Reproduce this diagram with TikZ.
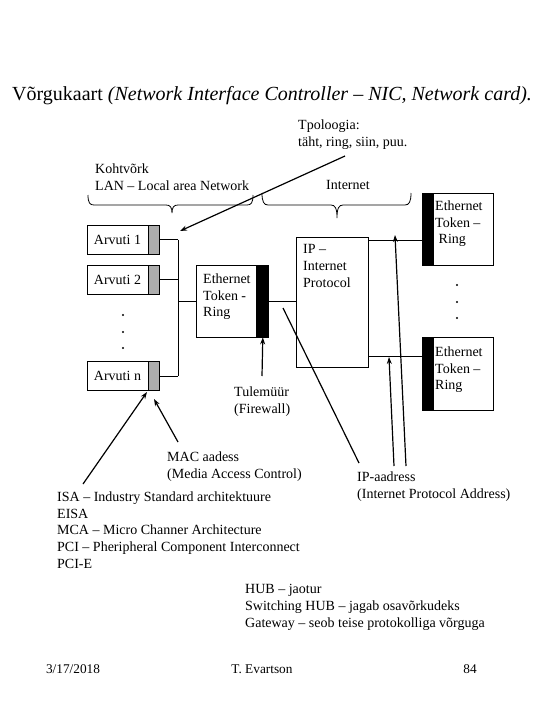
\documentclass[tikz,border=0pt]{standalone}
\usepackage{fontspec}
\setmainfont{Liberation Serif}
\usetikzlibrary{arrows.meta}
\begin{document}
\begin{tikzpicture}[x=1pt,y=-1pt,
  font=\fontsize{14}{16.7}\selectfont,
  thin line/.style={line width=0.8pt},
  pcbox/.style={draw, thin line, minimum width=61pt, minimum height=29pt, inner sep=0pt},
  pcport/.style={draw, thin line, fill=gray!65, minimum width=11pt, minimum height=29pt, inner sep=0pt},
  wbox/.style={draw, thin line, minimum width=60pt, minimum height=72pt, inner sep=0pt},
  kstrip/.style={draw, thin line, fill=black, minimum width=12pt, minimum height=72pt, inner sep=0pt},
  txt/.style={inner sep=0pt, align=left, anchor=north west},
  ltxt/.style={inner sep=0pt, anchor=base west},
  foot/.style={inner sep=0pt, font=\fontsize{13.3}{16}\selectfont},
  arr/.style={line width=1.2pt, -{Stealth[length=7pt,width=5pt]}},
  pl/.style={line width=1.2pt},
  dot/.style={circle, fill=black, inner sep=0pt, minimum size=2.2pt}]
\useasboundingbox (0,0) rectangle (540,720);

% title
\node[ltxt, font=\fontsize{20}{24}\selectfont] (title) at (12,100)
  {Võrgukaart \textit{(Network Interface Controller – NIC, Network card).}};

% top labels
\node[txt] (topo) at (298,119.5) {Tpoloogia:\\täht, ring, siin, puu.};
\node[txt] (lan) at (95,163.5) {Kohtvõrk\\LAN – Local area Network};
\node[ltxt] (inet) at (326,189) {Internet};

% braces
\draw[thin line] (88,195) .. controls (88,203) and (90,205) .. (94,205) -- (166,205)
  .. controls (170,205) and (172,207) .. (172,213)
  .. controls (172,207) and (174,205) .. (178,205) -- (247,205)
  .. controls (251,205) and (253,203) .. (253,195);
\draw[thin line] (262,193) .. controls (262,202) and (264,205) .. (268,205) -- (331,205)
  .. controls (335,205) and (337,208) .. (337,218)
  .. controls (337,208) and (339,205) .. (343,205) -- (405,205)
  .. controls (409,205) and (411,202) .. (411,193);

% computers
\node[pcbox] (a1) at (117.5,239.5) {Arvuti 1};
\node[pcport, anchor=west] (a1p) at (a1.east) {};
\node[pcbox] (a2) at (117.5,279.5) {Arvuti 2};
\node[pcport, anchor=west] (a2p) at (a2.east) {};
\node[pcbox] (an) at (117.5,376) {Arvuti n};
\node[pcport, anchor=west] (anp) at (an.east) {};
\node[dot] (d1) at (123,315) {};
\node[dot] (d2) at (123,332) {};
\node[dot] (d3) at (123,348) {};

% hub bus
\coordinate (bt) at (178,239.5);
\coordinate (bb) at (178,376);
\draw[thin line] (a1p.east) -- (bt);
\draw[thin line] (a2p.east) -- (a2p.east -| bt);
\draw[thin line] (anp.east) -- (bb);
\draw[thin line] (bt) -- (bb);

% ethernet box (middle)
\node[wbox] (eth) at (226,301) {};
\node[kstrip, anchor=west] (ethk) at (eth.east) {};
\node[txt] (etht) at (203,273.5) {Ethernet\\Token -\\Ring};
\draw[thin line] (eth.west -| bt) -- (eth.west);

% IP box
\node[draw, thin line, minimum width=72pt, minimum height=130pt, inner sep=0pt] (ip) at (332,302) {};
\node[txt] (ipt) at (303,244.5) {IP –\\Internet\\Protocol};
\draw[thin line] (ethk.east) -- (ethk.east -| ip.west);

% right ethernet boxes
\node[kstrip, minimum width=11pt] (r1k) at (427.5,229) {};
\node[wbox, anchor=west] (r1) at (r1k.east) {};
\node[txt] (r1t) at (435,200.5) {Ethernet\\Token –\\\hspace{3.5pt}Ring};
\node[kstrip, minimum width=11pt, minimum height=73pt] (r2k) at (427.5,373.5) {};
\node[wbox, minimum height=73pt, anchor=west] (r2) at (r2k.east) {};
\node[txt] (r2t) at (435,346.5) {Ethernet\\Token –\\Ring};
\node[dot] (e1) at (457,285) {};
\node[dot] (e2) at (457,302) {};
\node[dot] (e3) at (457,318) {};
\coordinate (ipo1) at (368,240);
\coordinate (ipo2) at (368,356);
\draw[thin line] (ipo1) -- (ipo1 -| r1k.west);
\draw[thin line] (ipo2) -- (ipo2 -| r2k.west);

% topology arrow
\coordinate (topoA) at (345,156);
\coordinate (topoB) at (180,231);
\draw[arr] (topoA) -- (topoB);

% firewall
\coordinate (fwtail) at (262,376);
\draw[arr] (fwtail) -- (ethk.south);
\node[txt] (fw) at (234,386.5) {Tulemüür\\(Firewall)};

% IP address
\coordinate (ipl1) at (283,308);
\coordinate (ipl2) at (359,463);
\draw[pl] (ipl2) -- (ipl1);
\coordinate (ipa1) at (394,466);
\coordinate (ipa1t) at (389,357);
\coordinate (ipa2) at (406,466);
\coordinate (ipa2t) at (395,235);
\draw[arr] (ipa1) -- (ipa1t);
\draw[arr] (ipa2) -- (ipa2t);
\node[txt] (ipad) at (357,471.5) {IP-aadress\\(Internet Protocol Address)};

% MAC
\coordinate (mact) at (178,442);
\draw[arr] (mact) -- (154,399);
\node[txt] (mac) at (167,451.5) {MAC aadess\\(Media Access Control)};

% ISA
\coordinate (isat) at (83,484);
\draw[arr] (isat) -- (147,392);
\node[txt] (isa) at (57,491.5) {ISA – Industry Standard architektuure\\EISA\\MCA – Micro Channer Architecture\\PCI – Pheripheral Component Interconnect\\PCI-E};

% HUB
\node[txt] (hub) at (245,584.5) {HUB – jaotur\\Switching HUB – jagab osavõrkudeks\\Gateway – seob teise protokolliga võrguga};

% footer
\node[foot] (date) at (73,669) {3/17/2018};
\node[foot] (auth) at (262,669) {T. Evartson};
\node[foot] (pg) at (470,669) {84};
\end{tikzpicture}
\end{document}
